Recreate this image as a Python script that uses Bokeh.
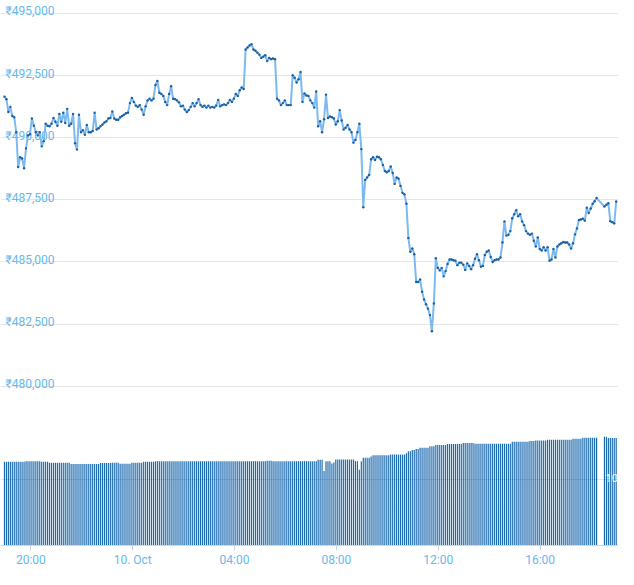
import pandas as pd
from bokeh.plotting import figure
from bokeh.models import Range1d, FixedTicker, Span, Grid, ColumnDataSource
from bokeh.embed import file_html
from bokeh.resources import INLINE
from bokeh.core.properties import value

# ---------------- data ----------------
start_time = "2018-10-09 18:57:47"
end_time = "2018-10-10 18:59:20"

prices = [
    491650, 491550, 491030, 491240, 490870, 490820, 490220, 488820, 489210, 489160,
    488770, 489570, 490090, 490140, 490770, 490480, 490220, 490090, 490220, 489650,
    489860, 490560, 490480, 490460, 490560, 490790, 490640, 490480, 490950, 490640,
    491000, 490590, 491160, 490480, 490560, 490950, 489780, 489520, 490920, 490220,
    490300, 490120, 490510, 490220, 490220, 490270, 491000, 490330, 490380, 490460,
    490530, 490610, 490660, 490770, 490790, 491050, 490770, 490720, 490720, 490820,
    490870, 490920, 490980, 491000, 491390, 491600, 491440, 491290, 491240, 491310,
    491130, 490920, 491260, 491500, 491570, 491500, 491570, 492120, 492280, 491810,
    491760, 491680, 491440, 491310, 491760, 492070, 491570, 491550, 491500, 491420,
    491260, 491290, 491130, 491030, 491110, 491240, 491390, 491260, 491390, 491550,
    491310, 491240, 491290, 491210, 491290, 491210, 491240, 491210, 491290, 491520,
    491260, 491310, 491340, 491310, 491390, 491520, 491440, 491570, 491760, 491680,
    491910, 492020, 491960, 493550, 493630, 493710, 493760, 493550, 493500, 493420,
    493340, 493210, 493260, 493320, 493080, 493210, 493160, 493190, 493160, 491570,
    491500, 491310, 491390, 491500, 491310, 491310, 491310, 492510, 492410, 492220,
    492350, 492640, 491440, 491780, 491700, 491680, 491500, 491390, 491210, 491860,
    490460, 490660, 490220, 490740, 491730, 490790, 490850, 490820, 490770, 490530,
    490660, 491110, 490690, 490330, 490400, 490510, 490330, 490220, 489800, 489910,
    490220, 490560, 489540, 487200, 488300, 488400, 488500, 489130, 489210, 489100,
    489230, 489210, 489130, 488900, 488660, 488610, 488660, 488840, 488580, 488140,
    488400, 488350, 488060, 487780, 487720, 487340, 485960, 485410, 485540, 485310,
    484190, 484190, 484290, 483800, 483490, 483300, 483120, 482860, 482210, 483330,
    485150, 484760, 484660, 484760, 484420, 484630, 484920, 485100, 485100, 485070,
    485050, 484870, 484970, 484970, 484890, 484680, 484940, 484840, 484710, 484870,
    485130, 485310, 485070, 484810, 484840, 485280, 485410, 485460, 485200, 485000,
    485070, 485100, 485100, 485180, 485780, 486630, 486060, 486090, 486240, 486760,
    486920, 487080, 486840, 486920, 486630, 486480, 486240, 486140, 486090, 486140,
    485850, 485620, 485980, 485520, 485460, 485590, 485460, 485590, 485050, 485100,
    485520, 485180, 485620, 485700, 485750, 485800, 485780, 485780, 485700, 485540,
    485750, 486110, 486350, 486690, 486710, 486740, 486660, 487180, 486970, 487150,
    487340, 487440, 487570, None, None, None, 487230, 487300, 487360, 486640,
    486600, 486550, 487430,
]

volumes = [
    12.7, 12.7, 12.7, 12.7, 12.7, 12.7, 12.7, 12.7, 12.7, 12.7,
    12.7, 12.8, 12.8, 12.8, 12.8, 12.8, 12.8, 12.8, 12.8, 12.7,
    12.7, 12.7, 12.7, 12.55, 12.55, 12.55, 12.55, 12.55, 12.55, 12.55,
    12.55, 12.55, 12.55, 12.55, 12.35, 12.35, 12.35, 12.35, 12.35, 12.35,
    12.35, 12.35, 12.35, 12.35, 12.35, 12.35, 12.35, 12.35, 12.35, 12.5,
    12.5, 12.5, 12.5, 12.5, 12.5, 12.55, 12.55, 12.55, 12.55, 12.4,
    12.4, 12.4, 12.4, 12.4, 12.4, 12.55, 12.55, 12.55, 12.55, 12.55,
    12.55, 12.7, 12.7, 12.7, 12.7, 12.7, 12.7, 12.8, 12.8, 12.8,
    12.8, 12.8, 12.8, 12.8, 12.8, 12.8, 12.8, 12.8, 12.8, 12.8,
    12.8, 12.8, 12.8, 12.8, 12.8, 12.8, 12.8, 12.8, 12.8, 12.8,
    12.8, 12.8, 12.8, 12.8, 12.8, 12.8, 12.8, 12.8, 12.8, 12.8,
    12.8, 12.8, 12.8, 12.8, 12.8, 12.8, 12.8, 12.8, 12.8, 12.8,
    12.8, 12.8, 12.8, 12.8, 12.8, 12.8, 12.8, 12.8, 12.8, 12.8,
    12.8, 12.8, 12.8, 12.8, 12.85, 12.85, 12.85, 12.8, 12.8, 12.8,
    12.8, 12.8, 12.8, 12.8, 12.8, 12.8, 12.8, 12.8, 12.8, 12.8,
    12.8, 12.8, 12.8, 12.8, 12.8, 12.8, 12.8, 12.8, 12.8, 12.8,
    13.0, 13.0, 13.0, 11.3, 12.8, 12.8, 12.8, 12.45, 12.6, 13.05,
    13.05, 13.05, 13.05, 13.05, 13.05, 13.05, 13.05, 13.05, 13.05, 12.8,
    12.8, 11.5, 12.8, 13.3, 13.3, 13.3, 13.3, 13.5, 13.7, 13.7,
    13.7, 13.7, 13.7, 13.7, 13.7, 13.7, 13.7, 13.8, 13.8, 13.8,
    13.8, 13.8, 13.8, 13.8, 13.8, 14.0, 14.3, 14.3, 14.5, 14.5,
    14.65, 14.65, 14.85, 14.85, 14.85, 14.85, 14.85, 15.05, 15.05, 15.05,
    15.25, 15.25, 15.25, 15.25, 15.25, 15.25, 15.4, 15.4, 15.4, 15.4,
    15.4, 15.4, 15.4, 15.4, 15.55, 15.55, 15.55, 15.55, 15.55, 15.55,
    15.45, 15.45, 15.45, 15.45, 15.45, 15.45, 15.45, 15.45, 15.45, 15.45,
    15.45, 15.45, 15.45, 15.45, 15.45, 15.45, 15.45, 15.45, 15.45, 15.75,
    15.75, 15.75, 15.75, 15.75, 15.75, 15.75, 15.75, 15.75, 15.85, 15.85,
    15.85, 15.95, 15.95, 15.95, 15.95, 15.95, 15.95, 16.05, 16.05, 16.05,
    16.05, 16.05, 16.05, 16.05, 16.05, 16.05, 16.05, 16.05, 16.05, 16.05,
    16.2, 16.2, 16.2, 16.2, 16.2, 16.35, 16.35, 16.35, 16.35, 16.35,
    16.35, 16.35, 16.35, None, None, None, 16.5, 16.5, 16.3, 16.3,
    16.3, 16.3, 16.3,
]

price_ticks = [480000, 482500, 485000, 487500, 490000, 492500, 495000]
price_tick_labels = ["₹480,000", "₹482,500", "₹485,000", "₹487,500",
                     "₹490,000", "₹492,500", "₹495,000"]
time_ticks = ["2018-10-09 20:00", "2018-10-10 00:00", "2018-10-10 04:00",
              "2018-10-10 08:00", "2018-10-10 12:00", "2018-10-10 16:00"]
time_tick_labels = ["20:00", "10. Oct", "04:00", "08:00", "12:00", "16:00"]
volume_grid_value = 10
volume_grid_label = "10"

# ---------------- build ----------------
times = pd.date_range(start_time, end_time, periods=len(prices))
df = pd.DataFrame({"t": times, "price": prices, "vol": volumes})
price_df = df.dropna(subset=["price"])
vol_df = df.dropna(subset=["vol"])

step_ms = (times[1] - times[0]).total_seconds() * 1000.0

BLUE_TXT = "#66b8ee"
FONT = "Roboto"

p = figure(
    width=618, height=569,
    x_axis_type="datetime", y_axis_location=None,
    x_range=Range1d(pd.Timestamp("2018-10-09 18:48:27"), pd.Timestamp("2018-10-10 19:04:45")),
    y_range=Range1d(473590, 495519),
    toolbar_location=None, output_backend="svg",
    min_border_left=0, min_border_right=0, min_border_top=0, min_border_bottom=22,
    background_fill_color="white", border_fill_color="white",
)
p.outline_line_color = None
for g in p.grid:
    g.visible = False

p.extra_y_ranges = {"vol": Range1d(0, 82.7)}

# price grid
p.add_layout(Grid(dimension=1, ticker=FixedTicker(ticks=price_ticks),
                  grid_line_color="#e6e6e6", grid_line_width=1))

# volume bars
p.vbar(x="t", top="vol", bottom=0, width=step_ms * 0.6, y_range_name="vol",
       source=ColumnDataSource(vol_df), fill_color="#1b6aae", line_color=None)

# volume grid line (drawn over bars)
p.add_layout(Span(location=volume_grid_value, dimension="width", y_range_name="vol",
                  line_color="black", line_alpha=0.1, line_width=1))
p.text(x=[pd.Timestamp("2018-10-10 18:34:08")], y=[volume_grid_value], text=[volume_grid_label],
       y_range_name="vol", text_color="white", text_font=value(FONT),
       text_font_size="11px", text_baseline="alphabetic", y_offset=-2)

# price axis labels inside the plot
p.text(x=[times[0]] * len(price_ticks), y=price_ticks, text=price_tick_labels,
       text_color=BLUE_TXT, text_font=value(FONT), text_font_size="12px",
       text_baseline="alphabetic", x_offset=1, y_offset=-2)

# price line + markers
src = ColumnDataSource(price_df)
p.line(x="t", y="price", source=src, line_color="#7cb9f0", line_width=2)
p.scatter(x="t", y="price", source=src, size=2.4, fill_color="#1c5f9e", line_color=None)

# x axis
tick_ms = [pd.Timestamp(t).value / 1e6 for t in time_ticks]
p.xaxis.ticker = FixedTicker(ticks=tick_ms)
p.xaxis.major_label_overrides = {ms: lab for ms, lab in zip(tick_ms, time_tick_labels)}
p.xaxis.axis_line_color = "#ccd6eb"
p.xaxis.major_tick_line_color = "#ccd6eb"
p.xaxis.major_tick_out = 5
p.xaxis.major_tick_in = 0
p.xaxis.minor_tick_line_color = None
p.xaxis.major_label_standoff = 2
p.xaxis.major_label_text_color = BLUE_TXT
p.xaxis.major_label_text_font = FONT
p.xaxis.major_label_text_font_size = "12px"

open("out.html", "w").write(file_html(p, INLINE))
